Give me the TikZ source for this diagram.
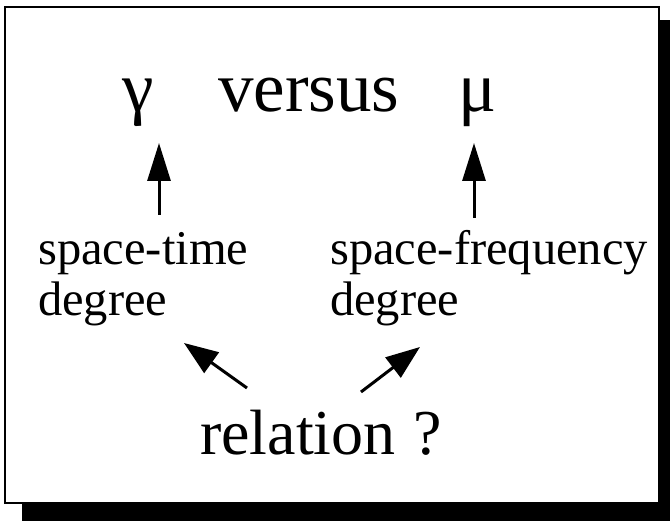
\documentclass[tikz,border=0pt]{standalone}
\usepackage{fontspec}
\setmainfont{Liberation Serif}
\usetikzlibrary{arrows.meta}
\tikzset{
  big/.style={inner sep=0pt, anchor=base west, font=\fontsize{71}{71}\selectfont},
  mid/.style={inner sep=0pt, anchor=base west, font=\fontsize{48.5}{48.5}\selectfont},
  low/.style={inner sep=0pt, anchor=base west, font=\fontsize{64}{64}\selectfont},
  uparr/.style={line width=3pt, -{Triangle[length=38pt,width=23pt]}},
  diagarr/.style={line width=3pt, -{Triangle[length=34pt,width=25pt]}},
  frame/.style={draw=black, line width=1.6pt, fill=white},
  shadow/.style={fill=black}
}
\begin{document}
\begin{tikzpicture}[x=1pt,y=1pt]
\useasboundingbox (0,0) rectangle (670,521);
% shadow and frame
\fill[shadow] (22,0) rectangle (670,501);
\draw[frame] (5,18) rectangle (659,514);
% top line
\node[big] (gamma) at (122,409) {γ};
\node[big] (versus) at (218,409) {versus};
\node[big] (mu) at (458,409) {μ};
% middle labels
\node[mid] (st1) at (38,256) {space-time};
\node[mid] (st2) at (38,205) {degree};
\node[mid] (sf1) at (330,256) {space-frequency};
\node[mid] (sf2) at (330,205) {degree};
% bottom
\node[low] (rel) at (200,66) {relation\hspace{0.28em}?};
% arrow ends
\coordinate (a1s) at (159,306);
\coordinate (a1e) at (159,378);
\coordinate (a2s) at (474,303);
\coordinate (a2e) at (474,378);
\coordinate (a3s) at (247,133);
\coordinate (a3e) at (184,178);
\coordinate (a4s) at (361,129);
\coordinate (a4e) at (420,174);
\draw[uparr] (a1s) -- (a1e);
\draw[uparr] (a2s) -- (a2e);
\draw[diagarr] (a3s) -- (a3e);
\draw[diagarr] (a4s) -- (a4e);
\end{tikzpicture}
\end{document}
